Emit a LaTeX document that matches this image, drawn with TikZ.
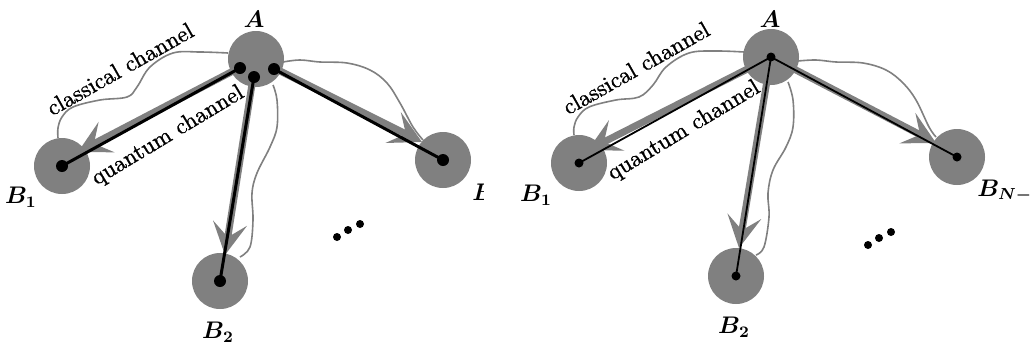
\documentclass[tikz,border=0pt]{standalone}
\usepackage{fontspec}
\newfontfamily\heavyrm{lmroman10-regular}[Extension=.otf,FakeBold=1.2]
\usetikzlibrary{arrows.meta}
\definecolor{midgray}{gray}{0.5}
\begin{document}
\begin{tikzpicture}[x=0.5pt,y=-0.5pt,
  site/.style={circle,fill=midgray,minimum size=28pt,inner sep=0pt},
  bigdot/.style={circle,fill=black,minimum size=6pt,inner sep=0pt},
  smalldot/.style={circle,fill=black,minimum size=4.5pt,inner sep=0pt},
  elldot/.style={circle,fill=black,minimum size=4pt,inner sep=0pt},
  qarrow/.style={draw=midgray,line width=3.5pt,-{Stealth[length=16pt,width=17pt,inset=7pt]}},
  thickline/.style={draw=black,line width=1.5pt},
  thinline/.style={draw=black,line width=0.9pt},
  cchan/.style={draw=midgray,line width=0.8pt},
  lbl/.style={font=\fontsize{12}{14}\selectfont\boldmath,inner sep=0pt},
  chtext/.style={font=\heavyrm\fontsize{11.5}{13}\selectfont,inner sep=0pt}
]
\useasboundingbox (0,0) rectangle (1032,344);
\fill[white] (0,0) rectangle (1032,344);

% ================= LEFT PANEL =================
\node[site] (A) at (256,59) {};
\node[site] (B1) at (62,166) {};
\node[site] (B2) at (220,281) {};
\node[site] (BN) at (443,160) {};

\draw[cchan] plot[smooth,tension=0.6] coordinates {(228,53) (200,52) (173,53) (150,67) (137,87) (127,97) (100,100) (73,107) (62,117) (58,128) (58,138)};
\draw[cchan] plot[smooth,tension=0.6] coordinates {(273,85) (277,100) (277,127) (270,147) (257,173) (252,193) (253,220) (250,247) (240,257)};
\draw[cchan] plot[smooth,tension=0.6] coordinates {(283,62) (300,60) (320,62) (347,63) (370,70) (387,83) (400,103) (413,127) (423,140)};

\coordinate (t1) at (78,152);
\coordinate (t2) at (225,255);
\coordinate (t3) at (422,142);
\draw[qarrow] (A.center) -- (t1);
\draw[qarrow] (A.center) -- (t2);
\draw[qarrow] (A.center) -- (t3);

\node[bigdot] (a1) at (240,68) {};
\node[bigdot] (a2) at (254,77) {};
\node[bigdot] (a3) at (274,69) {};
\node[bigdot] (b1) at (62,166) {};
\node[bigdot] (b2) at (220,281) {};
\node[bigdot] (bn) at (443,160) {};
\draw[thickline] (a1.center) -- (b1.center);
\draw[thickline] (a2.center) -- (b2.center);
\draw[thickline] (a3.center) -- (bn.center);

\node[lbl] (lA) at (254,19) {$A$};
\node[lbl] (lB1) at (21,197) {$B_1$};
\node[lbl] (lB2) at (218,332) {$B_2$};
\begin{scope}
\clip (0,0) rectangle (483,344);
\node[lbl,anchor=base west] (lBN) at (472,200) {$B_{N-1}$};
\end{scope}

\node[chtext,rotate=29.5] (cl) at (120,69) {classical channel};
\node[chtext,rotate=31] (ql) at (168,136) {quantum channel};

\node[elldot] (d1) at (337,237) {};
\node[elldot] (d2) at (348,230) {};
\node[elldot] (d3) at (360,224) {};

% ================= RIGHT PANEL =================
\node[site] (RA) at (771,57) {};
\node[site] (RB1) at (579,163) {};
\node[site] (RB2) at (736,276) {};
\node[site] (RBN) at (957,157) {};

\draw[cchan] plot[smooth,tension=0.6] coordinates {(744,52) (716,51) (689,53) (666,67) (653,85) (639,97) (616,100) (589,107) (578,117) (574,127) (574,135)};
\draw[cchan] plot[smooth,tension=0.6] coordinates {(788,82) (793,100) (793,127) (786,147) (773,170) (768,193) (769,217) (764,247) (756,255)};
\draw[cchan] plot[smooth,tension=0.6] coordinates {(798,61) (816,60) (836,62) (863,63) (886,70) (903,83) (916,100) (929,127) (936,137)};

\coordinate (rt1) at (588,150);
\coordinate (rt2) at (739,248);
\coordinate (rt3) at (936,143);
\draw[qarrow] (RA.center) -- (rt1);
\draw[qarrow] (RA.center) -- (rt2);
\draw[qarrow] (RA.center) -- (rt3);

\node[smalldot] (ra) at (771,57) {};
\node[smalldot] (rb1) at (579,163) {};
\node[smalldot] (rb2) at (736,276) {};
\node[smalldot] (rbn) at (957,157) {};
\draw[thinline] (ra.center) -- (rb1.center);
\draw[thinline] (ra.center) -- (rb2.center);
\draw[thinline] (ra.center) -- (rbn.center);

\node[lbl] (rlA) at (770,19) {$A$};
\node[lbl] (rlB1) at (536,195) {$B_1$};
\node[lbl] (rlB2) at (734,327) {$B_2$};
\begin{scope}
\clip (484,0) rectangle (1032,344);
\node[lbl,anchor=base west] (rlBN) at (977,196) {$B_{N-1}$};
\end{scope}

\node[chtext,rotate=29.5] (rcl) at (636,68) {classical channel};
\node[chtext,rotate=31] (rql) at (684,131) {quantum channel};

\node[elldot] (rd1) at (868,245) {};
\node[elldot] (rd2) at (879,238) {};
\node[elldot] (rd3) at (891,232) {};
\end{tikzpicture}
\end{document}
